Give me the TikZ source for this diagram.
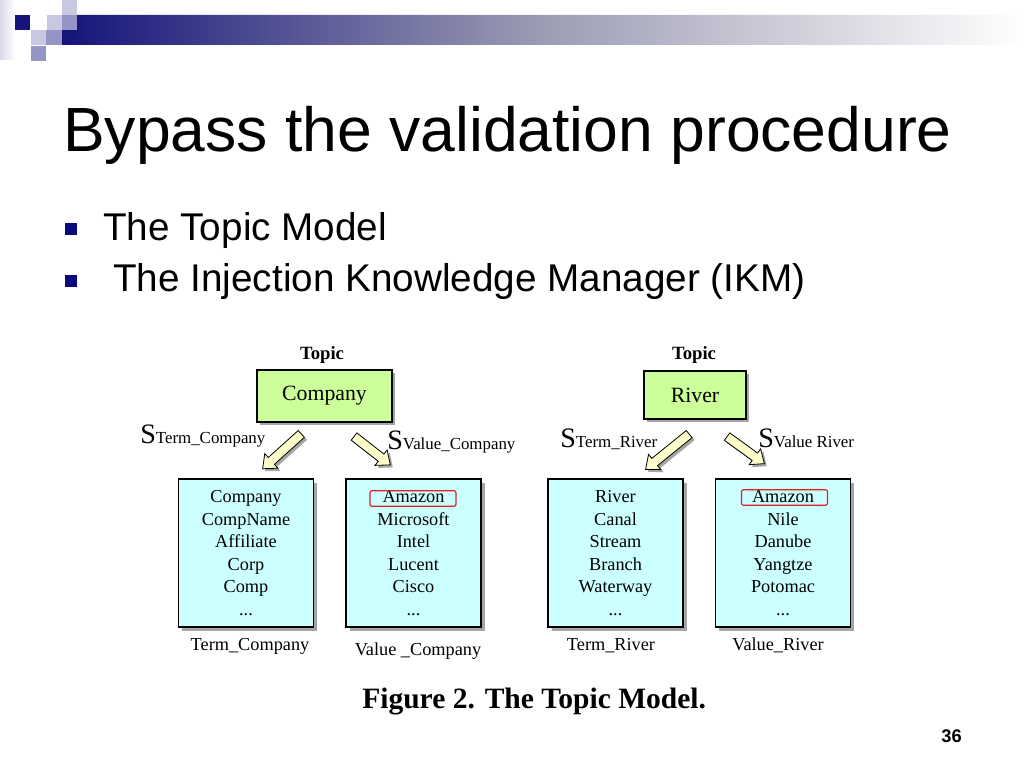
\documentclass[tikz,border=0pt]{standalone}
\usepackage{fontspec}
\setmainfont{Liberation Sans}
\newfontfamily\figfont{Liberation Serif}
\usepackage{tikz}
\usetikzlibrary{shapes.arrows,shadows}
\definecolor{navy}{HTML}{14147a}
\definecolor{bullet}{HTML}{0a0a80}
\definecolor{lilac}{HTML}{c8c8e2}
\definecolor{mauve}{HTML}{9494c6}
\definecolor{bargray}{HTML}{9c9cb4}
\definecolor{topicgreen}{HTML}{ccff99}
\definecolor{listcyan}{HTML}{ccffff}
\definecolor{arrowyellow}{HTML}{ffffcc}
\definecolor{amzred}{HTML}{e02020}

\begin{document}
\begin{tikzpicture}[x=0.025cm, y=-0.025cm, every path/.style={line cap=round}]

        \tikzset{topicbox/.style = {draw, line width=0.03cm, fill=topicgreen, inner sep=0pt, font=\figfont\fontsize{15.5}{18}\selectfont, drop shadow={shadow xshift=2.2pt, shadow yshift=-2.2pt, fill=black!70}}}
        \tikzset{listbox/.style = {draw, line width=0.03cm, fill=listcyan, inner sep=0pt, align=center, minimum width=3.375cm, minimum height=3.7cm, font=\figfont\fontsize{13}{16}\selectfont, drop shadow={shadow xshift=2.5pt, shadow yshift=-2.5pt, fill=black!70}}}
        \tikzset{blockarr/.style = {single arrow, draw, line width=0.02cm, fill=arrowyellow, inner xsep=0pt, inner ysep=0.105cm, single arrow head extend=0.13cm, single arrow tip angle=80, drop shadow={shadow xshift=1.8pt, shadow yshift=-1.8pt, fill=black!70}}}
        \tikzset{amzbox/.style = {draw=amzred, line width=0.03cm, rounded corners=1.5pt, minimum width=2.15cm, minimum height=0.39cm, inner sep=0pt}}
        \tikzset{toplabel/.style = {anchor=base, inner sep=0pt, font=\figfont\bfseries\fontsize{13.3}{13.3}\selectfont}}
        \tikzset{boxname/.style = {anchor=base, inner sep=0pt, font=\figfont\fontsize{13}{13}\selectfont}}
        \tikzset{slabel/.style = {anchor=base west, inner sep=0pt, font=\figfont\fontsize{12}{12}\selectfont}}
        \tikzset{slide/.style = {anchor=base west, inner sep=0pt}}

        \useasboundingbox (0,0) rectangle (1024,768);
        \fill[white] (0,0) rectangle (1024,768);

        % corner squares and bar
        \shade[left color=lilac!70, right color=white] (0,0) rectangle (15,60);
        \shade[left color=navy, right color=white, middle color=bargray] (77,15) -- (1024,15) -- (1024,45) -- (62,45) -- (62,30) -- (77,30) -- cycle;
        \fill[navy] (15,15) rectangle (30,30);
        \fill[lilac] (47,15) rectangle (62,30);
        \fill[lilac] (62,0) rectangle (77,15);
        \fill[mauve] (62,15) rectangle (77,30);
        \fill[lilac] (31,30) rectangle (46,45);
        \fill[mauve] (46,30) rectangle (62,45);
        \fill[mauve] (31,46) rectangle (46,61);

        \node[slide, font=\fontsize{44.4}{44.4}\selectfont] (title) at (63,152) {Bypass the validation procedure};
        \fill[bullet] (65,223) rectangle (77,235);
        \node[slide, font=\fontsize{27.5}{27.5}\selectfont] (itemA) at (103,240) {The Topic Model};
        \fill[bullet] (65,275) rectangle (77,287);
        \node[slide, font=\fontsize{27.5}{27.5}\selectfont] (itemB) at (113,291) {The Injection Knowledge Manager (IKM)};

        \node[toplabel] (topC) at (322,359) {Topic};
        \node[topicbox, minimum width=3.375cm, minimum height=1.3cm] (compC) at (324.5,396) {Company};
        \node[toplabel] (topR) at (694,359) {Topic};
        \node[topicbox, minimum width=2.55cm, minimum height=1.2cm] (compR) at (695,395) {River};

        \node[blockarr, minimum height=1.3cm, rotate=222] (arrTC) at (284,449.5) {};
        \node[blockarr, minimum height=1.15cm, rotate=-38] (arrVC) at (370,449) {};
        \node[blockarr, minimum height=1.4cm, rotate=219] (arrTR) at (669.5,450) {};
        \node[blockarr, minimum height=1.15cm, rotate=-36] (arrVR) at (743.5,448.5) {};

        \node[slabel] (sTC) at (140,443) {{\fontsize{20}{20}\selectfont S}Term\_Company};
        \node[slabel] (sVC) at (387,449) {{\fontsize{20}{20}\selectfont S}Value\_Company};
        \node[slabel] (sTR) at (560,447) {{\fontsize{20}{20}\selectfont S}Term\_River};
        \node[slabel] (sVR) at (758,447) {{\fontsize{20}{20}\selectfont S}Value River};

        \node[listbox] (termC) at (246,553) {Company\\CompName\\Affiliate\\Corp\\Comp\\...};
        \node[listbox] (valC) at (413.5,553) {Amazon\\Microsoft\\Intel\\Lucent\\Cisco\\...};
        \node[listbox] (termR) at (615.5,553) {River\\Canal\\Stream\\Branch\\Waterway\\...};
        \node[listbox] (valR) at (783,553) {Amazon\\Nile\\Danube\\Yangtze\\Potomac\\...};
        \node[amzbox] (amzC) at (413,498.5) {};
        \node[amzbox] (amzR) at (784.5,497.5) {};

        \node[boxname] (nTC) at (250,650) {Term\_Company};
        \node[boxname] (nVC) at (418,655) {Value \_Company};
        \node[boxname] (nTR) at (611,650) {Term\_River};
        \node[boxname] (nVR) at (778,650) {Value\_River};

        \node[slide, font=\figfont\bfseries\fontsize{21}{21}\selectfont] (fig) at (362,708) {Figure 2. The Topic Model.};
        \node[anchor=base east, inner sep=0pt, font=\bfseries\fontsize{13}{13}\selectfont] (pnum) at (962,742) {36};
\end{tikzpicture}
\end{document}
